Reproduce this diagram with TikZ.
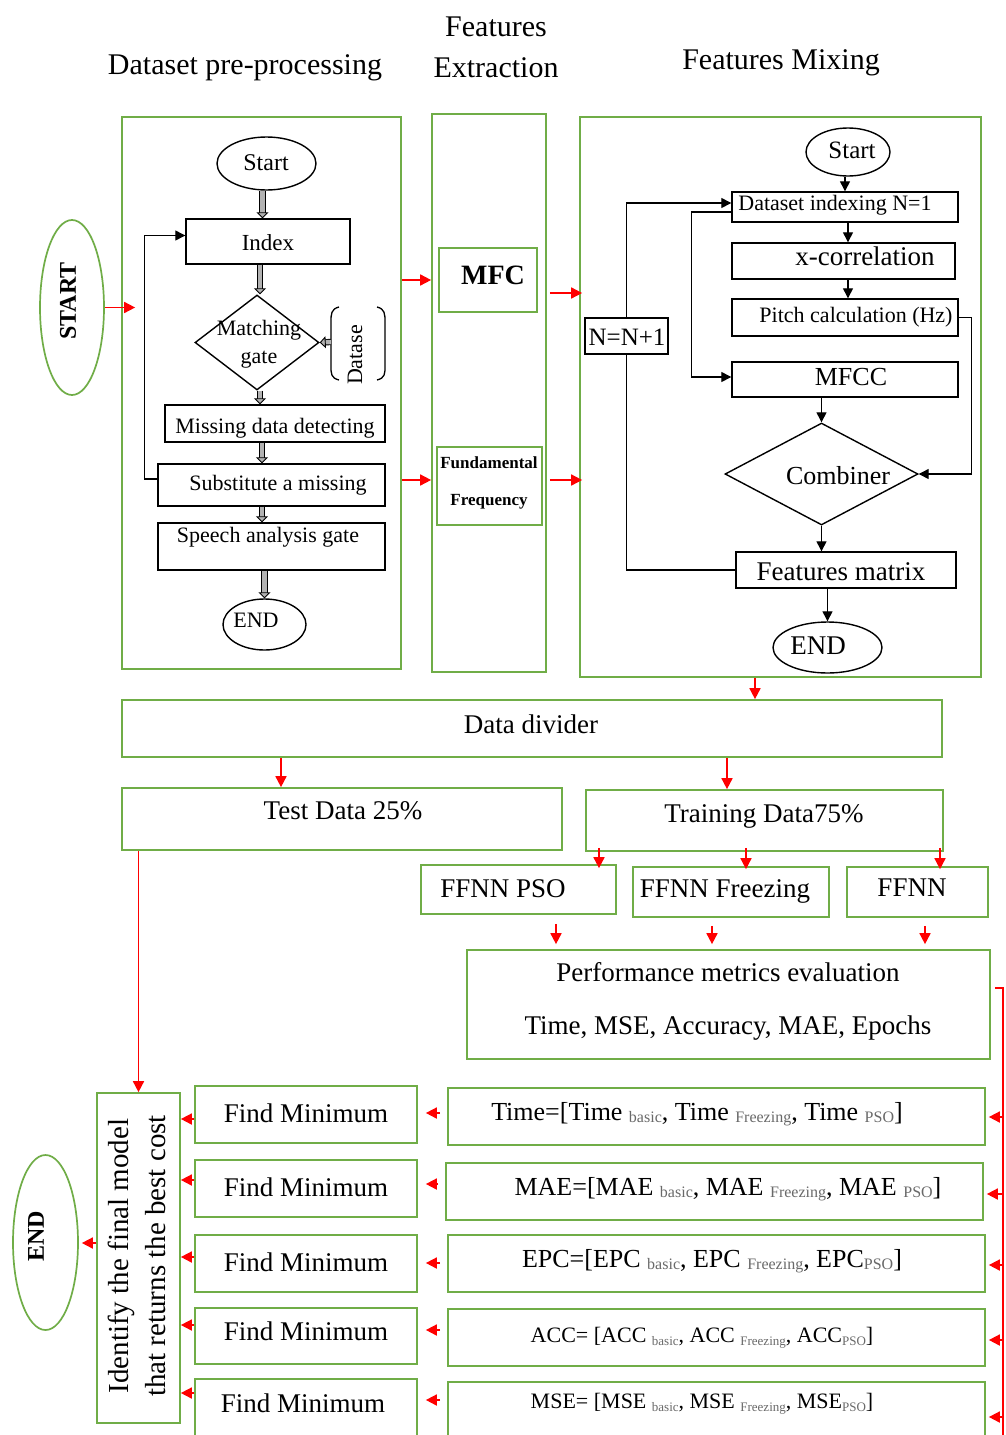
\documentclass[tikz,border=0pt]{standalone}
\usepackage{fontspec}
\setmainfont{Liberation Serif}
\usetikzlibrary{arrows.meta,shapes.geometric}
\definecolor{grn}{RGB}{112,173,71}
\definecolor{subgray}{RGB}{105,105,105}
% box from its two corners: [style]{name}{x1}{y1}{x2}{y2}
\newcommand\cbox[6][]{\node[#1,minimum width={#5-#3},minimum height={#6-#4}] (#2) at ({(#3+#5)/2},{(#4+#6)/2}) {};}
% small grey lowered index
\newcommand\lowsub[2]{\raisebox{-2.5pt}{\fontsize{#1}{#1}\selectfont\color{subgray}#2}}
\begin{document}
\begin{tikzpicture}[x=1pt,y=-1pt,
  gbox/.style={draw=grn,line width=1.7pt,inner sep=0pt},
  bbox/.style={draw=black,line width=1.4pt,inner sep=0pt},
  fs/.style 2 args={font=\fontsize{#1}{#2}\selectfont,inner sep=0pt},
  arr/.style={draw=black,line width=1.3pt,-{Triangle[length=10pt,width=10pt]}},
  bline/.style={draw=black,line width=1.3pt},
  rarr/.style={draw=red,line width=1.7pt,-{Triangle[length=11pt,width=11pt]}},
  rline/.style={draw=red,line width=1.7pt},
  blk/.style={draw=black,line width=0.9pt,double=black!30,double distance=4.5pt,-{Triangle[length=6pt,width=12pt,fill=black!30]}},
]
\useasboundingbox[fill=white] (0,0) rectangle (1005,1435);
\clip (0,0) rectangle (1005,1435);

% column headings
\node[fs={30}{34}] (hpre) at (245,68) {Dataset pre-processing};
\node[fs={30}{41},align=center] (hext) at (496,47) {Features\\Extraction};
\node[fs={30}{34}] (hmix) at (781,63) {Features Mixing};

% stage panels
\cbox[gbox]{pre}{122}{117}{401}{669}
\cbox[gbox]{ext}{432}{114}{546}{672}
\cbox[gbox]{mix}{580}{117}{981}{677}

% start terminal
\cbox[gbox,ellipse]{startE}{40}{220}{104}{395}
\node[font=\fontsize{24}{24}\selectfont\bfseries,rotate=90,inner sep=0pt] (startT) at (68,301) {START};
\draw[rarr] (startE.east) -- ([xshift=14pt]startE.east -| pre.west);

% ---- pre-processing flowchart
\cbox[bbox,ellipse]{startL}{217}{137}{316}{190}
\node[fs={24}{24}] (startLt) at (266,163) {Start};
\cbox[bbox]{index}{186}{219}{350}{264}
\node[fs={23}{23}] (indext) at (268,243) {Index};
\cbox[bbox,diamond]{gate}{195}{295}{319}{390}
\node[fs={22}{28},align=center] (gatet) at (259,344) {Matching\\gate};
\node[fs={22}{22},rotate=90] (ds) at (355,355) {Datase};
\draw[bline] (339,307) .. controls (331,309) and (331,314) .. (331,322) -- (331,366) .. controls (331,374) and (331,378) .. (339,380);
\draw[bline] (377,307) .. controls (385,309) and (385,314) .. (385,322) -- (385,366) .. controls (385,374) and (385,378) .. (377,380);
\coordinate (dsin) at (331,342);
\cbox[bbox]{miss}{165}{405}{385}{442}
\node[fs={22}{22}] (misst) at (275,428) {Missing data detecting};
\cbox[bbox]{subst}{158}{464}{385}{506}
\node[fs={22}{22}] (substt) at (278,485) {Substitute a missing};
\cbox[bbox]{speech}{158}{523}{385}{570}
\node[fs={22}{22}] (speecht) at (268,537) {Speech analysis gate};
\cbox[bbox,ellipse]{endL}{223}{599}{306}{650}
\node[fs={22}{22}] (endLt) at (256,620) {END};

\draw[blk] ([xshift=-4pt]startL.south) -- ([xshift=-4pt]startL.south |- index.north);
\draw[blk] ([xshift=3pt]gate.north |- index.south) -- ([xshift=3pt]gate.north);
\draw[blk] (dsin) -- (gate.east);
\draw[blk] ([xshift=3pt]gate.south) -- ([xshift=3pt]gate.south |- miss.north);
\draw[blk] ([xshift=-9.5pt]subst.north |- miss.south) -- ([xshift=-9.5pt]subst.north);
\draw[blk] ([xshift=-9.5pt]speech.north |- subst.south) -- ([xshift=-9.5pt]speech.north);
\draw[blk] (endL.north |- speech.south) -- (endL.north);
\draw[arr] ([yshift=6pt]subst.west) -- ++(-13,0) |- ([yshift=6pt]index.west);

% ---- feature extraction
\cbox[gbox]{mfc}{439}{248}{537}{312}
\node[font=\fontsize{28}{28}\selectfont\bfseries,inner sep=0pt] (mfct) at (493,275) {MFC};
\cbox[gbox]{fund}{437}{447}{542}{525}
\node[font=\fontsize{17}{37}\selectfont\bfseries,align=center,inner sep=0pt] (fundt) at (489,483) {Fundamental\\Frequency};

\draw[rarr] (pre.east |- mfc.west) -- (ext.west |- mfc.west);
\draw[rarr] ([yshift=6pt]pre.east |- fund.west) -- ([yshift=6pt]ext.west |- fund.west);
\draw[rarr] ([xshift=3pt,yshift=-13pt]ext.east |- mfc.east) -- ([xshift=3pt,yshift=-13pt]mix.west |- mfc.east);
\draw[rarr] ([xshift=3pt,yshift=6pt]ext.east |- fund.east) -- ([xshift=3pt,yshift=6pt]mix.west |- fund.east);

% ---- feature mixing flowchart
\cbox[bbox,ellipse]{startR}{806}{128}{890}{176}
\node[fs={25}{25}] (startRt) at (852,150) {Start};
\cbox[bbox]{dsidx}{732}{192}{958}{222}
\node[fs={22}{22}] (dsidxt) at (835,205) {Dataset indexing N=1};
\cbox[bbox]{xcor}{732}{243}{955}{279}
\node[fs={27}{27}] (xcort) at (865,256) {x-correlation};
\cbox[bbox]{pitch}{732}{299}{958}{336}
\node[fs={22}{22}] (pitcht) at (856,317) {Pitch calculation (Hz)};
\cbox[bbox]{mfcc}{732}{362}{958}{397}
\node[fs={26}{26}] (mfcct) at (851,377) {MFCC};
\cbox[bbox,diamond]{comb}{725}{423}{918}{525}
\node[fs={26}{26}] (combt) at (838,476) {Combiner};
\cbox[bbox]{feat}{736}{552}{956}{588}
\node[fs={27}{27}] (featt) at (841,572) {Features matrix};
\cbox[bbox,ellipse]{endR}{773}{622}{882}{673}
\node[fs={27}{27}] (endRt) at (818,646) {END};
\cbox[bbox]{nn}{585}{318}{668}{354}
\node[fs={25}{25}] (nnt) at (627,337) {N=N+1};

\draw[arr] ([xshift=-3pt]startR.south) -- ([xshift=-3pt]startR.south |- dsidx.north);
\draw[arr] ([xshift=3pt]dsidx.south) -- ([xshift=3pt]dsidx.south |- xcor.north);
\draw[arr] ([xshift=3pt]dsidx.south |- xcor.south) -- ([xshift=3pt]dsidx.south |- pitch.north);
\draw[arr] (pitch.east) -- ++(13,0) |- (comb.east);
\draw[arr] ([yshift=-5pt]dsidx.west) -- ++(-40,0) |- ([yshift=2.5pt]mfcc.west);
\draw[arr] (comb.north |- mfcc.south) -- (comb.north);
\draw[arr] (comb.south) -- (comb.south |- feat.north);
\draw[arr] (endR.north |- feat.south) -- (endR.north);
\draw[bline] (feat.west) -| (nn.south);
\draw[arr] (nn.north) |- ([yshift=4pt]dsidx.west);

% ---- data split and training
\cbox[gbox]{div}{122}{700}{942}{757}
\node[fs={27}{27}] (divt) at (531,724) {Data divider};
\cbox[gbox]{test}{122}{788}{562}{850}
\node[fs={27}{27}] (testt) at (343,811) {Test Data 25\%};
\cbox[gbox]{train}{586}{790}{943}{851}
\node[fs={27}{27}] (traint) at (764,816) {Training Data75\%};
\cbox[gbox]{pso}{421}{865}{616}{914}
\node[fs={27}{27}] (psot) at (503,889) {FFNN PSO};
\cbox[gbox]{frz}{633}{867}{829}{917}
\node[fs={27}{27}] (frzt) at (725,891) {FFNN Freezing};
\cbox[gbox]{ffnn}{847}{867}{988}{917}
\node[fs={27}{27}] (ffnnt) at (912,888) {FFNN};
\cbox[gbox]{perf}{467}{950}{990}{1059}
\node[fs={27}{53},align=center] (perft) at (728,1001) {Performance metrics evaluation\\Time, MSE, Accuracy, MAE, Epochs};

\draw[rarr] ([xshift=-25.5pt]mix.south) -- ([xshift=-25.5pt]mix.south |- div.north);
\draw[rarr] ([xshift=-61pt]test.north |- div.south) -- ([xshift=-61pt]test.north);
\draw[rarr] ([xshift=-37.5pt]train.north |- div.south) -- ([xshift=-37.5pt]train.north);
\draw[rarr] ([xshift=80.5pt,yshift=4pt]pso.north |- train.south) -- ([xshift=80.5pt,yshift=-4pt]pso.north);
\draw[rarr] ([xshift=15pt,yshift=4pt]frz.north |- train.south) -- ([xshift=15pt,yshift=-3pt]frz.north);
\draw[rarr] ([xshift=22.5pt,yshift=4pt]ffnn.north |- train.south) -- ([xshift=22.5pt,yshift=-3pt]ffnn.north);
\draw[rarr,shorten <=9pt,shorten >=5pt] ([xshift=37.5pt]pso.south) -- ([xshift=37.5pt]pso.south |- perf.north);
\draw[rarr,shorten <=8pt,shorten >=5pt] ([xshift=-19pt]frz.south) -- ([xshift=-19pt]frz.south |- perf.north);
\draw[rarr,shorten <=8pt,shorten >=5pt] ([xshift=7.5pt]ffnn.south) -- ([xshift=7.5pt]ffnn.south |- perf.north);

% ---- metric vectors
\cbox[gbox]{tm}{448}{1088}{985}{1145}
\node[fs={26}{26}] (tmt) at (697,1114) {Time=[Time \lowsub{16}{basic}, Time \lowsub{16}{Freezing}, Time \lowsub{16}{PSO}]};
\cbox[gbox]{mae}{446}{1163}{983}{1220}
\node[fs={26}{26}] (maet) at (728,1189) {MAE=[MAE \lowsub{16}{basic}, MAE \lowsub{16}{Freezing}, MAE \lowsub{16}{PSO}]};
\cbox[gbox]{epc}{448}{1235}{985}{1292}
\node[fs={26}{26}] (epct) at (712,1261) {EPC=[EPC \lowsub{16}{basic}, EPC \lowsub{16}{Freezing}, EPC\lowsub{16}{PSO}]};
\cbox[gbox]{acc}{448}{1309}{985}{1366}
\node[fs={22}{22}] (acct) at (702,1338) {ACC= [ACC \lowsub{13}{basic}, ACC \lowsub{13}{Freezing}, ACC\lowsub{13}{PSO}]};
\cbox[gbox]{mse}{448}{1382}{985}{1445}
\node[fs={22}{22}] (mset) at (702,1404) {MSE= [MSE \lowsub{13}{basic}, MSE \lowsub{13}{Freezing}, MSE\lowsub{13}{PSO}]};

% red feed line on the right
\coordinate (busEnd) at (1003,1440);
\draw[rline] ([xshift=4pt,yshift=16.5pt]perf.east) -| (busEnd);
\draw[rarr,shorten >=3pt] ([yshift=-0.5pt]tm.east -| busEnd) -- ([yshift=-0.5pt]tm.east);
\draw[rarr,shorten >=3pt] ([yshift=-2.5pt]mae.east -| busEnd) -- ([yshift=-2.5pt]mae.east);
\draw[rarr,shorten >=3pt] ([yshift=-1.5pt]epc.east -| busEnd) -- ([yshift=-1.5pt]epc.east);
\draw[rarr,shorten >=3pt] ([yshift=-2.5pt]acc.east -| busEnd) -- ([yshift=-2.5pt]acc.east);
\draw[rarr,shorten >=3pt] ([yshift=-3.5pt]mse.east -| busEnd) -- ([yshift=-3.5pt]mse.east);

% ---- minimum search
\cbox[gbox]{fm1}{195}{1086}{417}{1143}
\node[fs={27}{27}] (fm1t) at (306,1113) {Find Minimum};
\cbox[gbox]{fm2}{195}{1160}{417}{1217}
\node[fs={27}{27}] (fm2t) at (306,1187) {Find Minimum};
\cbox[gbox]{fm3}{195}{1235}{417}{1292}
\node[fs={27}{27}] (fm3t) at (306,1262) {Find Minimum};
\cbox[gbox]{fm4}{195}{1308}{417}{1364}
\node[fs={27}{27}] (fm4t) at (306,1331) {Find Minimum};
\cbox[gbox]{fm5}{195}{1379}{417}{1445}
\node[fs={27}{27}] (fm5t) at (303,1403) {Find Minimum};

\draw[rarr,shorten <=7pt,shorten >=8pt] ([yshift=1.5pt]fm1.east -| tm.west) -- ([yshift=1.5pt]fm1.east);
\draw[rarr,shorten <=7pt,shorten >=8pt] ([yshift=4.5pt]fm2.east -| mae.west) -- ([yshift=4.5pt]fm2.east);
\draw[rarr,shorten <=7pt,shorten >=8pt] ([yshift=0.5pt]fm3.east -| epc.west) -- ([yshift=0.5pt]fm3.east);
\draw[rarr,shorten <=7pt,shorten >=8pt] ([yshift=6pt]fm4.east -| acc.west) -- ([yshift=6pt]fm4.east);
\draw[rarr,shorten <=7pt,shorten >=8pt] ([yshift=12pt]fm5.east -| mse.west) -- ([yshift=12pt]fm5.east);

% ---- final selection
\cbox[gbox]{ident}{97}{1093}{180}{1423}
\node[fs={29}{37},rotate=90,align=center] (identt) at (137,1256) {Identify the final model\\that returns the best cost};
\cbox[gbox,ellipse]{endB}{13}{1155}{78}{1330}
\node[font=\fontsize{24}{24}\selectfont\bfseries,rotate=90,inner sep=0pt] (endBt) at (36,1236) {END};

\draw[rarr] ([yshift=-4.5pt]fm1.west) -- ([yshift=-4.5pt]fm1.west -| ident.east);
\draw[rarr] ([yshift=8.5pt]fm2.west) -- ([yshift=8.5pt]fm2.west -| ident.east);
\draw[rarr] ([yshift=6.5pt]fm3.west) -- ([yshift=6.5pt]fm3.west -| ident.east);
\draw[rarr] ([yshift=11pt]fm4.west) -- ([yshift=11pt]fm4.west -| ident.east);
\draw[rarr] ([yshift=19pt]fm5.west) -- ([yshift=19pt]fm5.west -| ident.east);
\draw[rarr] (ident.north |- test.south) -- (ident.north);
\draw[rarr,shorten >=3pt] ([yshift=15pt]ident.west) -- ([yshift=15pt]ident.west -| endB.east);
\end{tikzpicture}
\end{document}
